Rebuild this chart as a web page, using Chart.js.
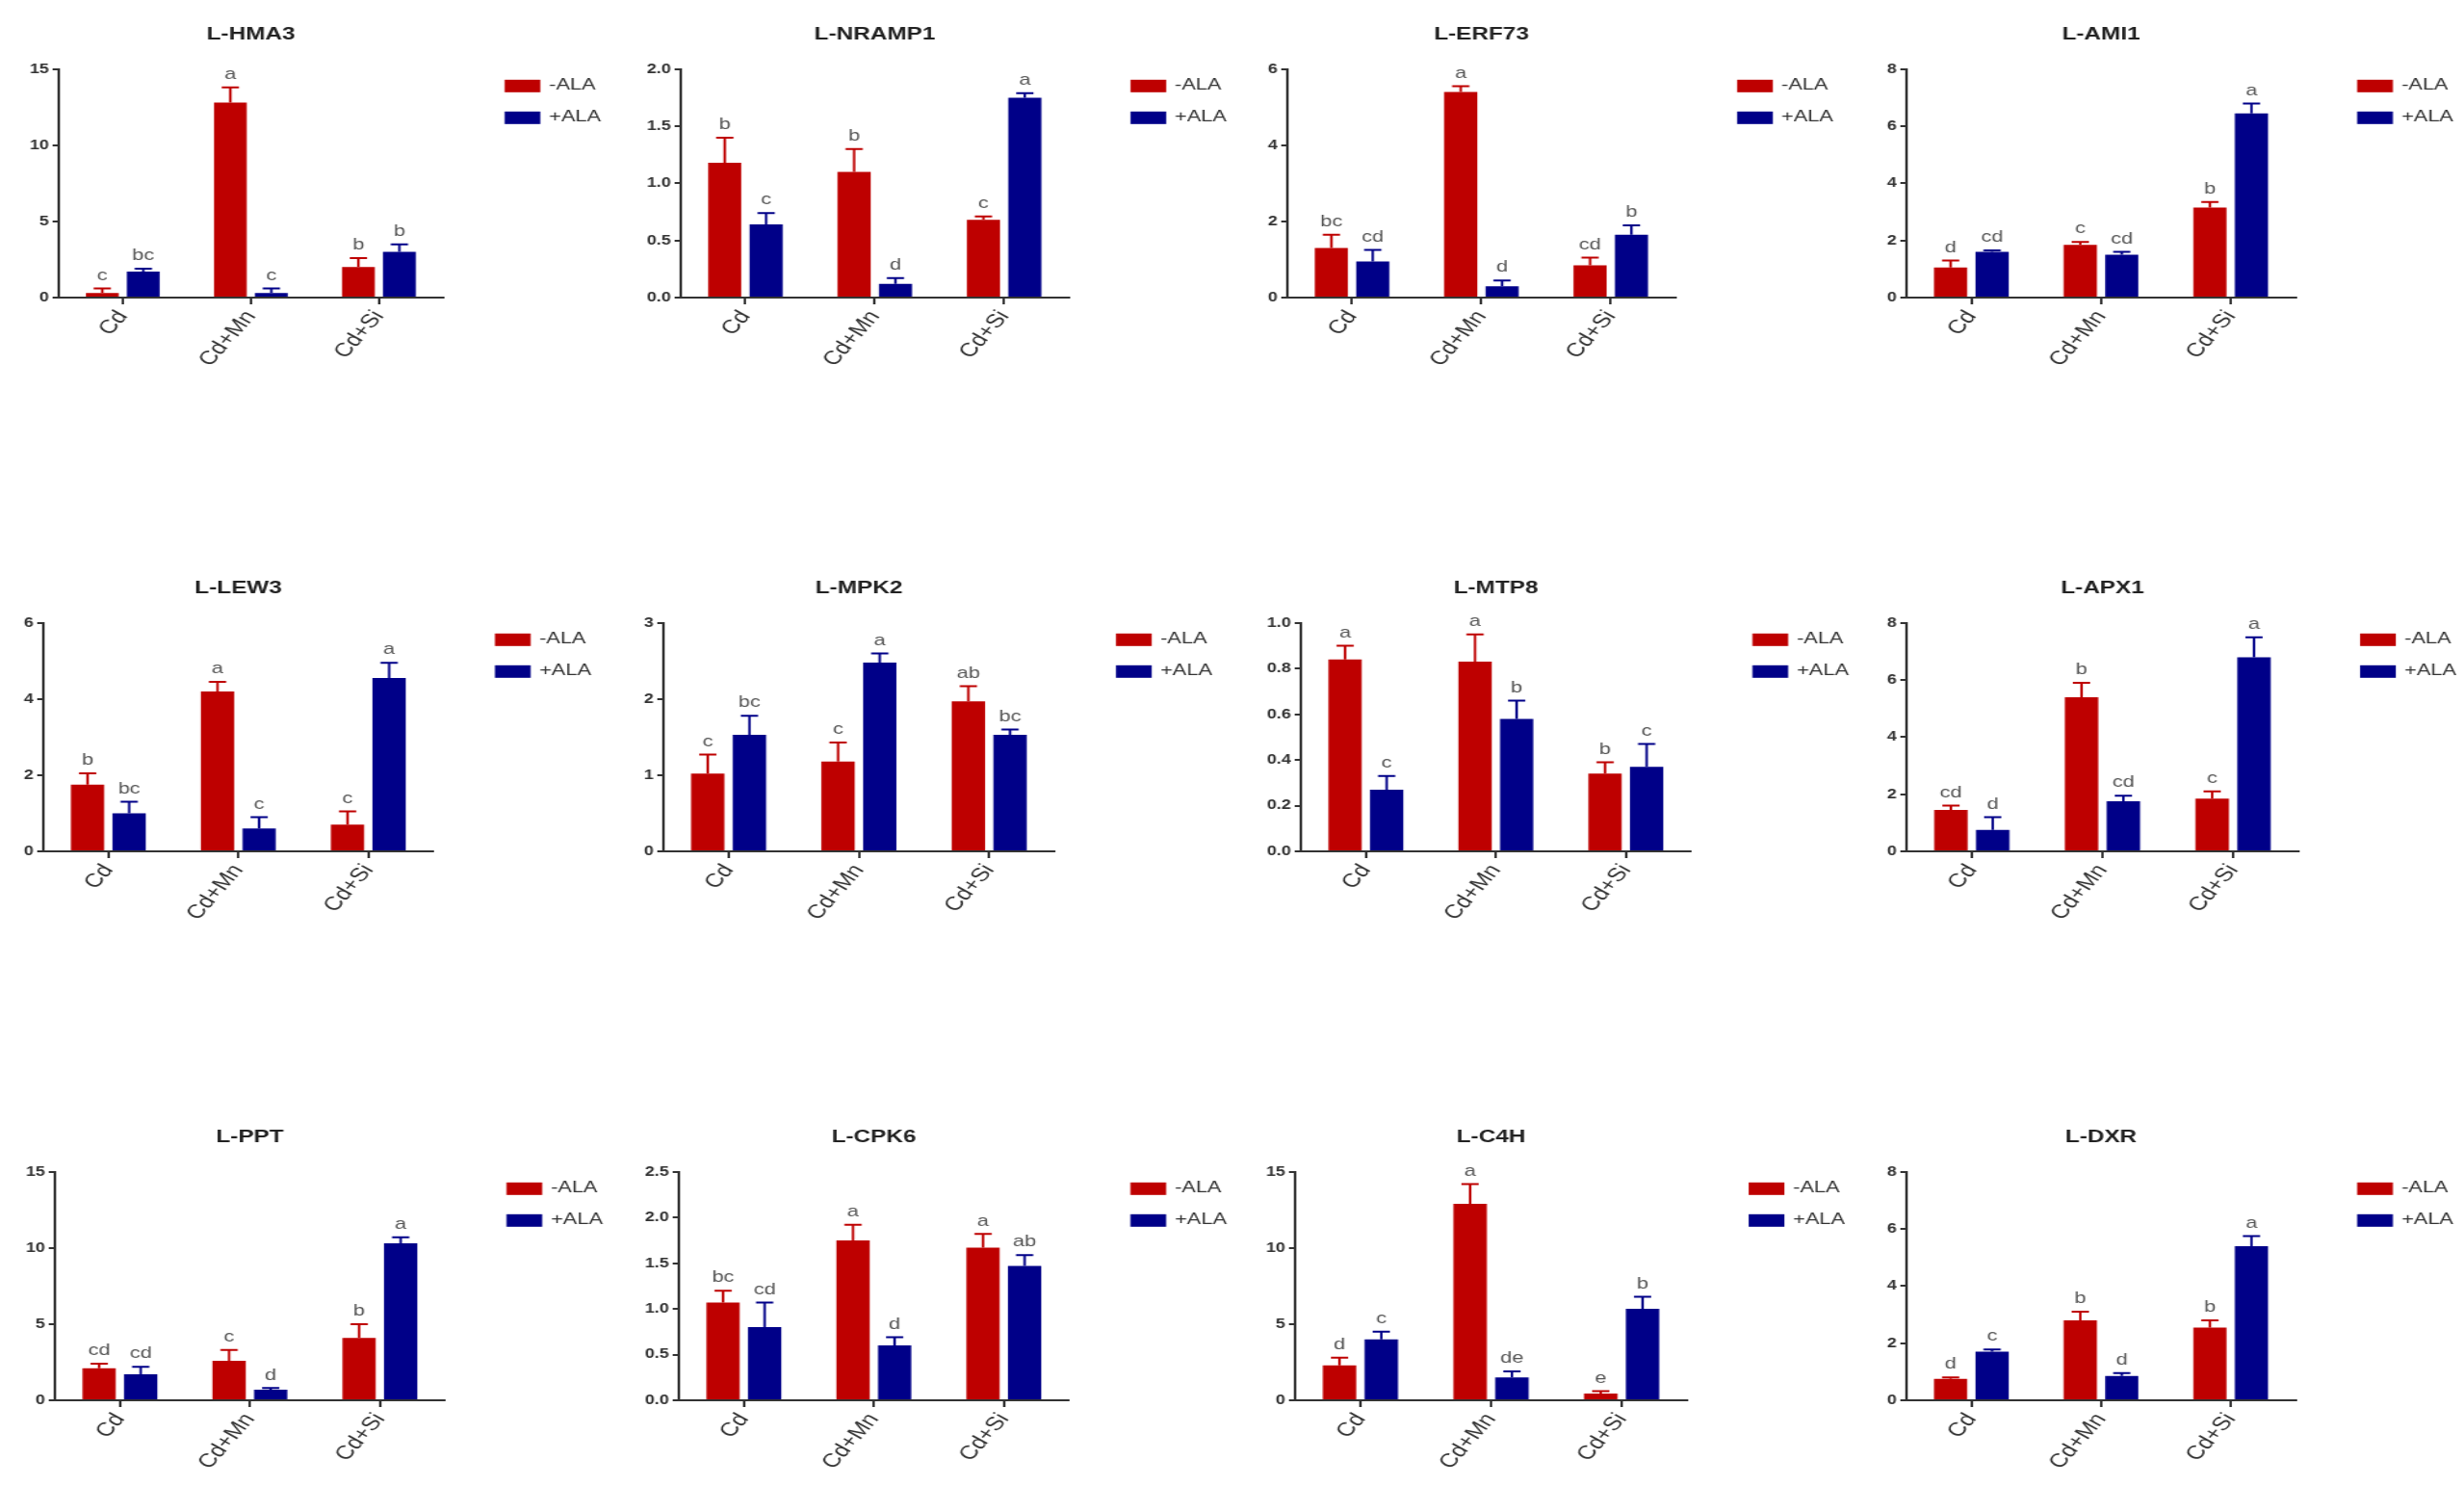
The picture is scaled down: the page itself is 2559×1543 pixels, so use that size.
<!DOCTYPE html>
<html>
<head>
<meta charset="utf-8">
<script src="https://cdn.jsdelivr.net/npm/chart.js@4.4.1/dist/chart.umd.min.js"></script>
<style>
  html, body { margin: 0; padding: 0; background: #fff; width: 2559px; height: 1543px; overflow: hidden; }
  body { position: relative; }
  canvas { position: absolute; transform-origin: 0 0; }
</style>
</head>
<body>
<script>
// data (relative expression)
const categories = ["Cd", "Cd+Mn", "Cd+Si"];
const genes = ["L-HMA3", "L-NRAMP1", "L-ERF73", "L-AMI1",
               "L-LEW3", "L-MPK2", "L-MTP8", "L-APX1",
               "L-PPT", "L-CPK6", "L-C4H", "L-DXR"];

const minusALA = [
  [0.3, 12.8, 2.0], [1.18, 1.1, 0.68], [1.3, 5.4, 0.85], [1.05, 1.85, 3.15],
  [1.75, 4.2, 0.7], [1.02, 1.18, 1.97], [0.84, 0.83, 0.34], [1.45, 5.4, 1.85],
  [2.1, 2.6, 4.1], [1.07, 1.75, 1.67], [2.3, 12.9, 0.45], [0.75, 2.8, 2.55]
];
const minusALAErr = [
  [0.3, 1.0, 0.6], [0.22, 0.2, 0.03], [0.35, 0.15, 0.2], [0.25, 0.1, 0.2],
  [0.3, 0.25, 0.35], [0.25, 0.25, 0.2], [0.06, 0.12, 0.05], [0.15, 0.5, 0.25],
  [0.3, 0.7, 0.9], [0.13, 0.17, 0.15], [0.5, 1.3, 0.15], [0.05, 0.3, 0.25]
];
const plusALA = [
  [1.7, 0.3, 3.0], [0.64, 0.12, 1.75], [0.95, 0.3, 1.65], [1.6, 1.5, 6.45],
  [1.0, 0.6, 4.55], [1.53, 2.48, 1.53], [0.27, 0.58, 0.37], [0.75, 1.75, 6.8],
  [1.7, 0.7, 10.3], [0.8, 0.6, 1.47], [4.0, 1.5, 6.0], [1.7, 0.85, 5.4]
];
const plusALAErr = [
  [0.2, 0.3, 0.5], [0.1, 0.05, 0.04], [0.3, 0.15, 0.25], [0.05, 0.1, 0.35],
  [0.3, 0.3, 0.4], [0.25, 0.12, 0.07], [0.06, 0.08, 0.1], [0.45, 0.2, 0.7],
  [0.5, 0.1, 0.4], [0.27, 0.09, 0.12], [0.5, 0.4, 0.8], [0.08, 0.1, 0.35]
];
const minusLetters = [
  ["c", "a", "b"], ["b", "b", "c"], ["bc", "a", "cd"], ["d", "c", "b"],
  ["b", "a", "c"], ["c", "c", "ab"], ["a", "a", "b"], ["cd", "b", "c"],
  ["cd", "c", "b"], ["bc", "a", "a"], ["d", "a", "e"], ["d", "b", "b"]
];
const plusLetters = [
  ["bc", "c", "b"], ["c", "d", "a"], ["cd", "d", "b"], ["cd", "cd", "a"],
  ["bc", "c", "a"], ["bc", "a", "bc"], ["c", "b", "c"], ["d", "cd", "a"],
  ["cd", "d", "a"], ["cd", "d", "ab"], ["c", "de", "b"], ["c", "d", "a"]
];
const yMax  = [15, 2.0, 6, 8, 6, 3, 1.0, 8, 15, 2.5, 15, 8];
const yStep = [5, 0.5, 2, 2, 2, 1, 0.2, 2, 5, 0.5, 5, 2];
const seriesNames = ["-ALA", "+ALA"];

const RED = "#BE0000";
const BLUE = "#000088";
const INK = "#333333";
const FONT = "'Liberation Sans', Arial, sans-serif";

// the original figure is stretched sideways, so each panel is too
const SX = 1.28;
// page position of each panel's y axis and right end of its x axis
const axisX = [61, 707, 1337, 1980, 45, 689, 1351, 1980, 57, 705, 1345, 1980];
const axisR = [460, 1110, 1740, 2384, 450, 1095, 1756, 2387, 462, 1110, 1752, 2384];
const topY = [72, 647, 1217];
const plotH = 237;
const YW = 50;        // y axis band, canvas px
const CW = 520;       // canvas width, canvas px

// error bars and significance letters
const errorBars = {
  id: "errorBars",
  afterDatasetsDraw(chart) {
    const ctx = chart.ctx;
    const y = chart.scales.y;
    chart.data.datasets.forEach((ds, i) => {
      chart.getDatasetMeta(i).data.forEach((bar, j) => {
        const yTop = y.getPixelForValue(ds.data[j] + ds.errors[j]);
        ctx.save();
        ctx.strokeStyle = ds.backgroundColor;
        ctx.lineWidth = 2;
        ctx.beginPath();
        ctx.moveTo(bar.x, bar.y);
        ctx.lineTo(bar.x, yTop);
        ctx.moveTo(bar.x - 7, yTop);
        ctx.lineTo(bar.x + 7, yTop);
        ctx.stroke();
        ctx.fillStyle = "#555";
        ctx.font = "17px " + FONT;
        ctx.textAlign = "center";
        ctx.textBaseline = "bottom";
        ctx.fillText(ds.letters[j], bar.x, yTop - 5);
        ctx.restore();
      });
    });
  }
};

// legend to the right of the plot
const sideLegend = {
  id: "sideLegend",
  afterDraw(chart) {
    const ctx = chart.ctx;
    const a = chart.chartArea;
    chart.data.datasets.forEach((ds, i) => {
      const cy = a.top + 17 + i * 33;
      const bx = a.right + 50;
      ctx.save();
      ctx.fillStyle = ds.backgroundColor;
      ctx.fillRect(bx, cy - 6, 29, 13);
      ctx.fillStyle = INK;
      ctx.font = "17px " + FONT;
      ctx.textAlign = "left";
      ctx.textBaseline = "middle";
      ctx.fillText(ds.label, bx + 36, cy);
      ctx.restore();
    });
  }
};

genes.forEach((gene, g) => {
  const row = Math.floor(g / 4);
  const plotW = (axisR[g] - axisX[g]) / SX;
  const cv = document.createElement("canvas");
  cv.width = CW;
  cv.height = 407;
  cv.style.left = (axisX[g] - YW * SX) + "px";
  cv.style.top = (topY[row] - 60) + "px";
  cv.style.transform = "scaleX(" + SX + ")";
  document.body.appendChild(cv);

  const decimals = yStep[g] < 1 ? 1 : 0;

  new Chart(cv, {
    type: "bar",
    data: {
      labels: categories,
      datasets: [
        { label: seriesNames[0], data: minusALA[g], errors: minusALAErr[g], letters: minusLetters[g],
          backgroundColor: RED, borderWidth: 0 },
        { label: seriesNames[1], data: plusALA[g], errors: plusALAErr[g], letters: plusLetters[g],
          backgroundColor: BLUE, borderWidth: 0 }
      ]
    },
    options: {
      responsive: false,
      animation: false,
      devicePixelRatio: 1,
      layout: { padding: { left: 0, right: CW - YW - plotW, top: 0, bottom: 0 } },
      datasets: { bar: { categoryPercentage: 0.64, barPercentage: 0.8 } },
      plugins: {
        legend: { display: false },
        tooltip: { enabled: false },
        title: {
          display: true,
          text: gene,
          fullSize: false,
          color: "#222",
          font: { family: FONT, size: 19, weight: "bold" },
          padding: { top: 12, bottom: 25 }
        }
      },
      scales: {
        x: {
          type: "category",
          offset: true,
          grid: { offset: false, drawOnChartArea: false, tickLength: 7, color: INK, lineWidth: 2 },
          border: { color: INK, width: 2 },
          ticks: { minRotation: 55, maxRotation: 55, color: INK, padding: 2,
                   font: { family: FONT, size: 20 } },
          afterFit: s => { s.height = 110; }
        },
        y: {
          min: 0,
          max: yMax[g],
          grid: { drawOnChartArea: false, tickLength: 5, color: INK, lineWidth: 2 },
          border: { color: INK, width: 2 },
          ticks: { stepSize: yStep[g], color: INK, padding: 3,
                   font: { family: FONT, size: 14, weight: "bold" },
                   callback: v => Number(v).toFixed(decimals) },
          afterFit: s => { s.width = YW; }
        }
      }
    },
    plugins: [errorBars, sideLegend]
  });
});
</script>
</body>
</html>
